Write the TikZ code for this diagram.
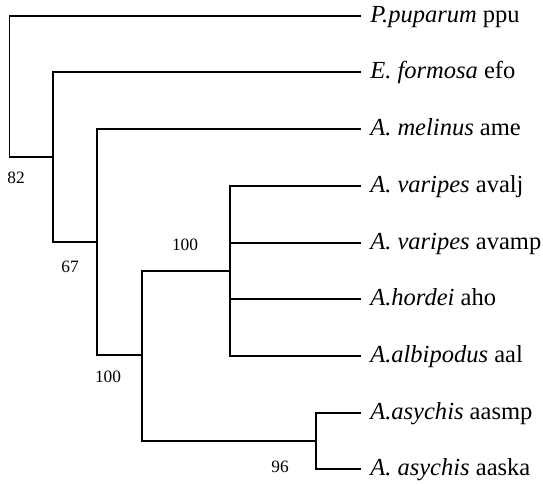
\documentclass[tikz,border=0pt]{standalone}
\usepackage{fontspec}
\setmainfont{Liberation Serif}
\usepackage{tikz}
\usetikzlibrary{positioning, calc}

\begin{document}
\begin{tikzpicture}
    [x=0.75pt, y=-0.75pt,
    branch/.style={draw, line width=1.1pt, line cap=rect},
    leaf/.style={anchor=west, inner xsep=7.5pt, inner ysep=0pt, text height=2ex, text depth=0pt, font=\fontsize{18.4}{20}\selectfont},
    boot/.style={inner sep=0pt, font=\fontsize{13}{14}\selectfont}]
    \useasboundingbox (0,0) rectangle (543,485);
    % taxa
    \node [leaf] (ppu) at (360,16) {\textit{P.puparum} ppu};
    \node [leaf] (efo) at (360,72) {\textit{E. formosa} efo};
    \node [leaf] (ame) at (360,129) {\textit{A. melinus} ame};
    \node [leaf] (avalj) at (360,186) {\textit{A. varipes} avalj};
    \node [leaf] (avamp) at (360,243) {\textit{A. varipes} avamp};
    \node [leaf] (aho) at (360,299) {\textit{A.hordei} aho};
    \node [leaf] (aal) at (360,356) {\textit{A.albipodus} aal};
    \node [leaf] (aasmp) at (360,413) {\textit{A.asychis} aasmp};
    \node [leaf] (aaska) at (360,469) {\textit{A. asychis} aaska};
    % internal nodes
    \coordinate (root) at (9.5,86.5);
    \coordinate (efoclade) at (53,157);
    \coordinate (ameclade) at (97,242);
    \coordinate (aphclade) at (142,355);
    \coordinate (varclade) at (230,271);
    \coordinate (asyclade) at (316,441);
    % support values
    \node [boot] (b82) at (16,178) {82};
    \node [boot] (b67) at (70,267) {67};
    \node [boot] (b100a) at (185,245) {100};
    \node [boot] (b100b) at (108,377) {100};
    \node [boot] (b96) at (280,467) {96};
    \draw[branch] (root) |- (ppu.west);
    \draw[branch] (root) |- (efoclade);
    \draw[branch] (efoclade) |- (efo.west);
    \draw[branch] (efoclade) |- (ameclade);
    \draw[branch] (ameclade) |- (ame.west);
    \draw[branch] (ameclade) |- (aphclade);
    \draw[branch] (aphclade) |- (varclade);
    \draw[branch] (aphclade) |- (asyclade);
    \draw[branch] (varclade) |- (avalj.west);
    \draw[branch] (varclade) |- (avamp.west);
    \draw[branch] (varclade) |- (aho.west);
    \draw[branch] (varclade) |- (aal.west);
    \draw[branch] (asyclade) |- (aasmp.west);
    \draw[branch] (asyclade) |- (aaska.west);
\end{tikzpicture}
\end{document}
